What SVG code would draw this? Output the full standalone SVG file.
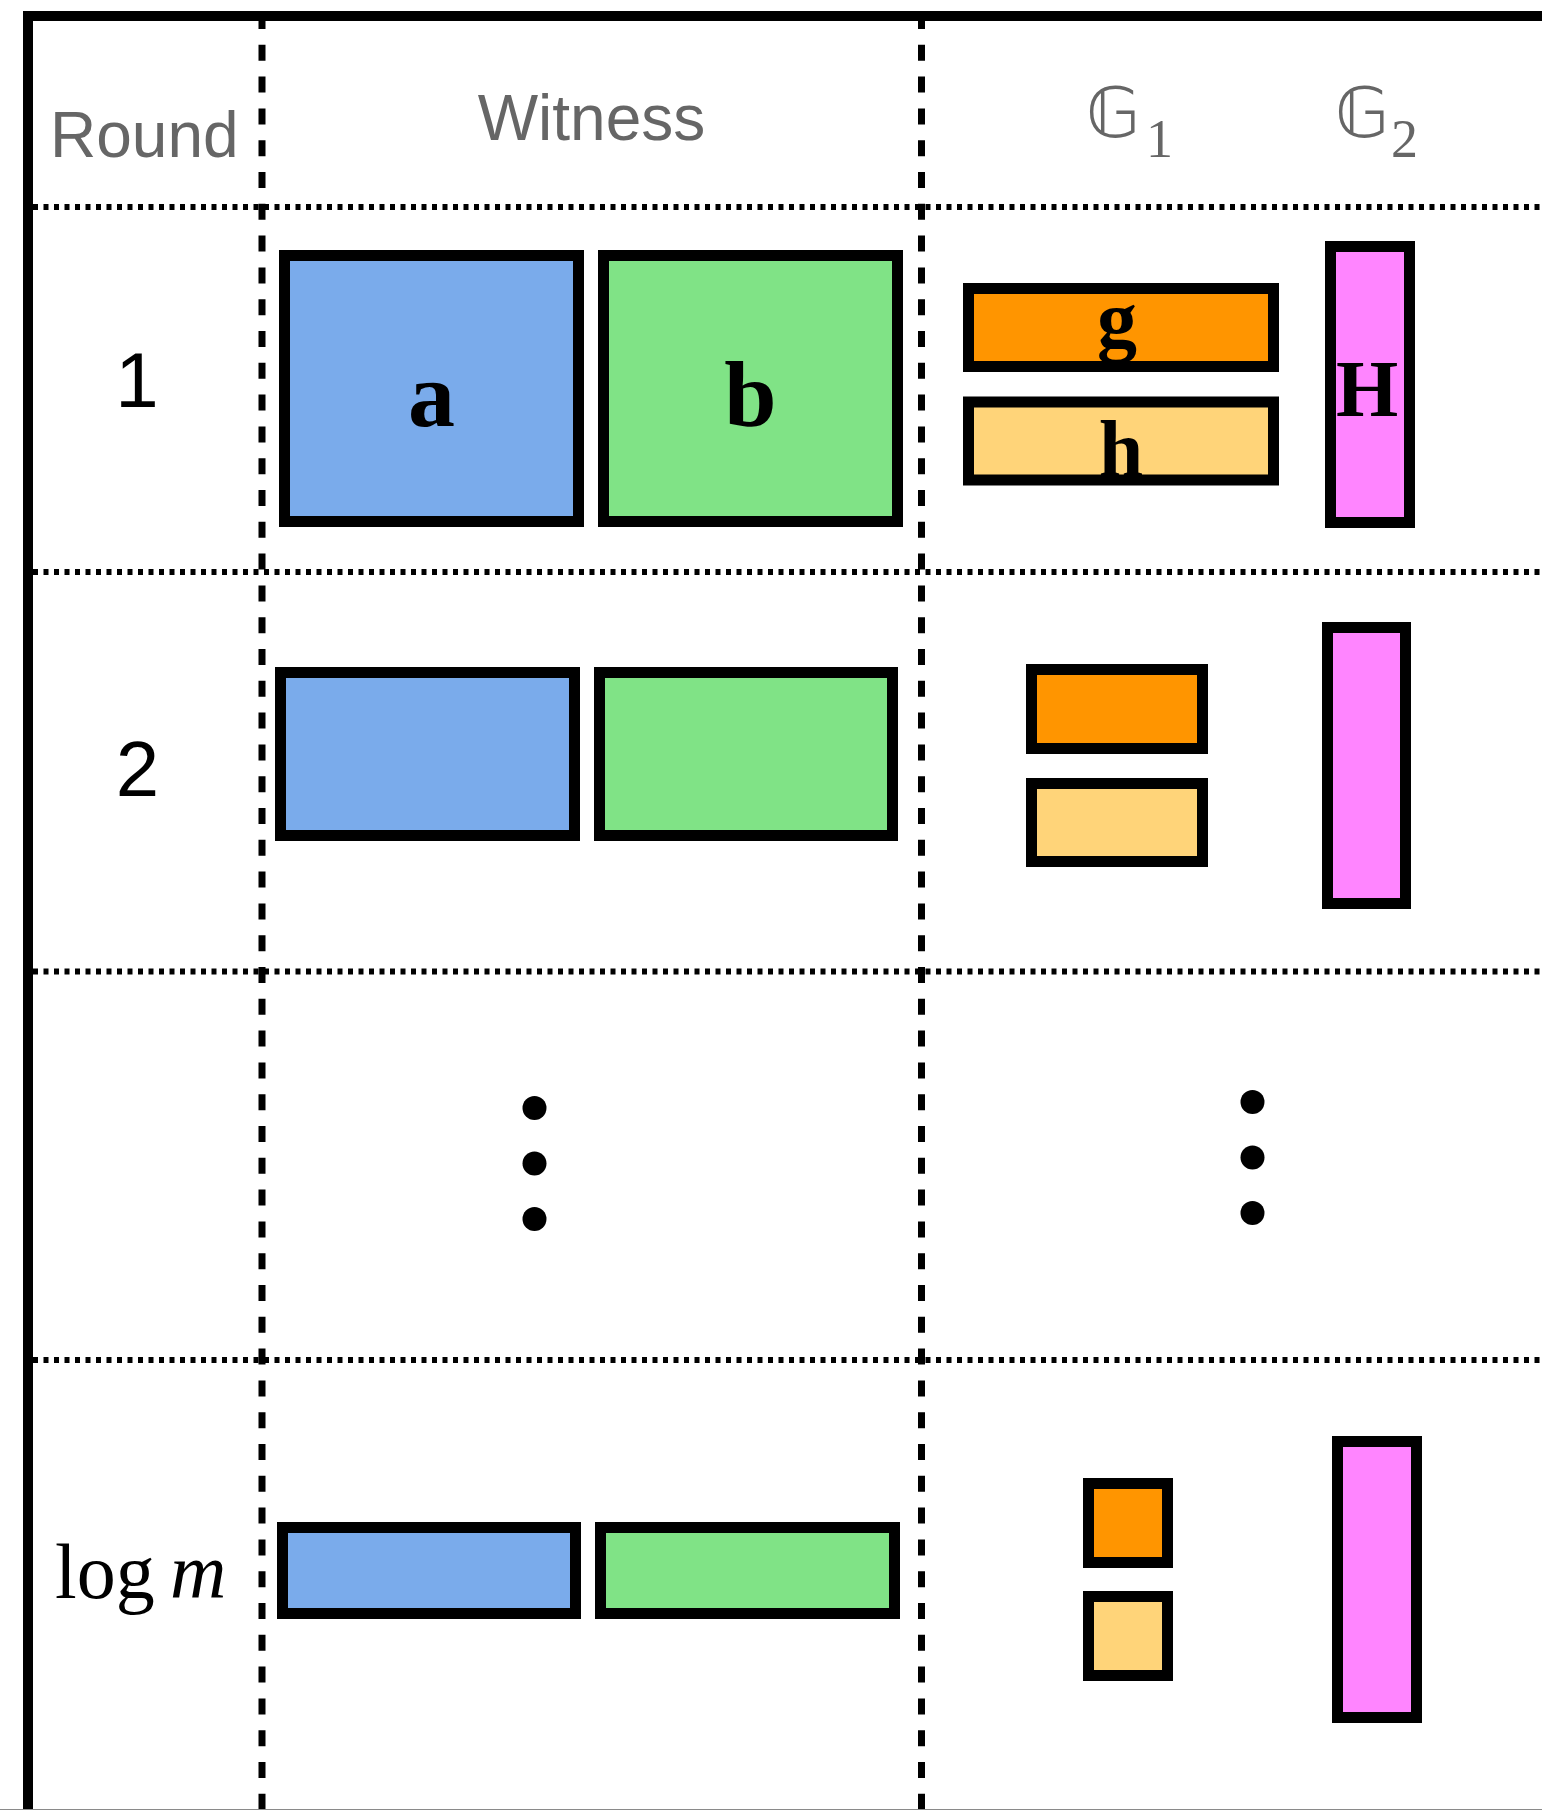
<svg xmlns="http://www.w3.org/2000/svg" width="1542" height="1810" viewBox="0 0 1542 1810">
  <style>
    .frame { stroke: #000; stroke-width: 10; fill: none; }
    .vdash { stroke: #000; stroke-width: 7; stroke-dasharray: 16 15.8; fill: none; }
    .hdot { stroke: #000; stroke-width: 6; stroke-dasharray: 5 5.5; fill: none; }
    .box { stroke: #000; stroke-width: 11; }
    .wa { fill: #7aabeb; }
    .wb { fill: #80e386; }
    .g1 { fill: #ff9500; }
    .g1l { fill: #ffd479; }
    .g2 { fill: #ff85ff; }
    .head { font-family: "Liberation Sans", Arial, sans-serif; font-size: 64px; fill: #666666; }
    .rnd { font-family: "Liberation Sans", Arial, sans-serif; font-size: 78px; fill: #000; text-anchor: middle; }
    .lbl { font-family: "Liberation Serif", "Times New Roman", serif; font-weight: bold; fill: #000; text-anchor: middle; }
    .grp { font-family: "DejaVu Sans", "DejaVu Serif", sans-serif; font-size: 70px; fill: #666666; }
    .sub { font-family: "Liberation Serif", "Times New Roman", serif; font-size: 54px; fill: #666666; }
    .math { font-family: "Liberation Serif", "Times New Roman", serif; font-size: 78px; fill: #000; }
  </style>

  <!-- table grid -->
  <g id="grid">
    <line class="frame" x1="23" y1="16" x2="1542" y2="16"/>
    <line class="frame" x1="28" y1="11" x2="28" y2="1810"/>
    <line class="vdash" x1="262" y1="13" x2="262" y2="1810"/>
    <line class="vdash" x1="921.5" y1="13" x2="921.5" y2="1810"/>
    <line class="hdot" x1="33" y1="207" x2="1542" y2="207"/>
    <line class="hdot" x1="33" y1="572" x2="1542" y2="572"/>
    <line class="hdot" x1="33" y1="971.5" x2="1542" y2="971.5"/>
    <line class="hdot" x1="33" y1="1360" x2="1542" y2="1360"/>
    <line x1="0" y1="1809.5" x2="1542" y2="1809.5" stroke="#8a8a8a" stroke-width="1"/>
  </g>

  <!-- column headers -->
  <g id="headers">
    <text class="head" x="50" y="157">Round</text>
    <text class="head" x="591.5" y="140" text-anchor="middle">Witness</text>
    <text class="grp" x="1086" y="137">𝔾</text>
    <text class="sub" x="1146" y="156.5">1</text>
    <text class="grp" x="1335" y="137">𝔾</text>
    <text class="sub" x="1391" y="156.5">2</text>
  </g>

  <!-- round labels -->
  <g id="round-labels">
    <text class="rnd" x="137" y="407">1</text>
    <text class="rnd" x="137.5" y="796">2</text>
    <text class="math" x="55" y="1598">log<tspan x="170" font-style="italic">m</tspan></text>
  </g>

  <!-- round 1 -->
  <g id="r1-a"><rect class="box wa" x="284.5" y="255.5" width="294" height="266"/><text class="lbl" x="431.5" y="426" font-size="94">a</text></g>
  <g id="r1-b"><rect class="box wb" x="603.5" y="255.5" width="294" height="266"/><text class="lbl" x="750.5" y="426" font-size="94">b</text></g>
  <g id="r1-g"><rect class="box g1" x="968.5" y="288.5" width="305" height="78"/><text class="lbl" x="1117" y="347" font-size="80">g</text></g>
  <g id="r1-h"><rect class="box g1l" x="968.5" y="402" width="305" height="78"/><text class="lbl" x="1121" y="476" font-size="80">h</text></g>
  <g id="r1-H"><rect class="box g2" x="1330.5" y="246.5" width="79" height="276"/><text class="lbl" x="1367" y="416" font-size="80">H</text></g>

  <!-- round 2 -->
  <g id="r2-a"><rect class="box wa" x="280.5" y="672.5" width="294" height="163"/></g>
  <g id="r2-b"><rect class="box wb" x="599.5" y="672.5" width="293" height="163"/></g>
  <g id="r2-g"><rect class="box g1" x="1031.5" y="669.5" width="171" height="79"/></g>
  <g id="r2-h"><rect class="box g1l" x="1031.5" y="783.5" width="171" height="78"/></g>
  <g id="r2-H"><rect class="box g2" x="1327.5" y="627.5" width="78" height="276"/></g>

  <!-- ellipsis rows -->
  <g id="dots-witness" fill="#000">
    <circle cx="534.5" cy="1108" r="12"/>
    <circle cx="534.5" cy="1163.5" r="12"/>
    <circle cx="534.5" cy="1219" r="12"/>
  </g>
  <g id="dots-groups" fill="#000">
    <circle cx="1252.5" cy="1102" r="12"/>
    <circle cx="1252.5" cy="1157.5" r="12"/>
    <circle cx="1252.5" cy="1213" r="12"/>
  </g>

  <!-- final round -->
  <g id="rn-a"><rect class="box wa" x="282.5" y="1527.5" width="293" height="86"/></g>
  <g id="rn-b"><rect class="box wb" x="600.5" y="1527.5" width="294" height="86"/></g>
  <g id="rn-g"><rect class="box g1" x="1088.5" y="1483.5" width="79" height="79"/></g>
  <g id="rn-h"><rect class="box g1l" x="1088.5" y="1596.5" width="79" height="79"/></g>
  <g id="rn-H"><rect class="box g2" x="1337.5" y="1441.5" width="79" height="276"/></g>
</svg>
